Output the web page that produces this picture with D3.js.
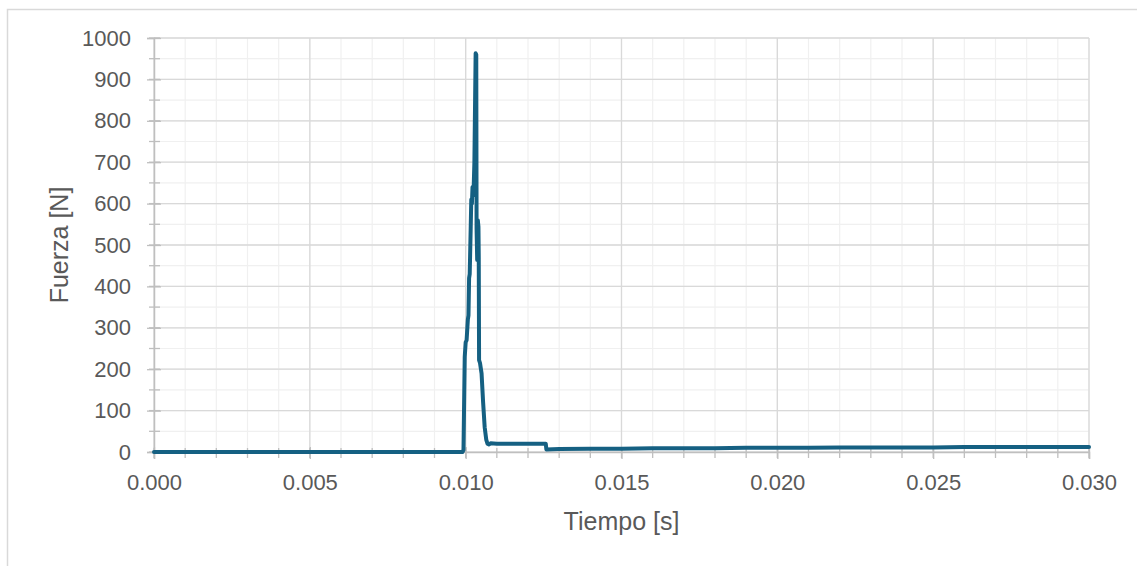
<!DOCTYPE html>
<html>
<head>
<meta charset="utf-8">
<script src="https://cdn.jsdelivr.net/npm/d3@7"></script>
<style>
  html, body { margin: 0; padding: 0; background: #fff; }
  svg { display: block; font-family: "Liberation Sans", Arial, sans-serif; }
</style>
</head>
<body>
<div id="chart"></div>
<script>
// Tiempo [s] / Fuerza [N] series
const tiempo = [
  0.0000, 0.0050, 0.0099, 0.00993, 0.00997, 0.01000, 0.01003, 0.01007, 0.01009,
  0.01011, 0.01013, 0.01016, 0.01018, 0.01020, 0.01022, 0.01025, 0.01028,
  0.01032, 0.01034, 0.01035, 0.01037, 0.01039, 0.01041, 0.01042, 0.01043,
  0.01046, 0.01051, 0.01056, 0.01061, 0.01066, 0.01070, 0.01075, 0.01080,
  0.01100, 0.01150, 0.01200, 0.01257, 0.01259, 0.01300, 0.01400, 0.01500,
  0.01600, 0.01700, 0.01800, 0.01900, 0.02000, 0.02100, 0.02200, 0.02300,
  0.02400, 0.02500, 0.02600, 0.02700, 0.02800, 0.02900, 0.03000
];
const fuerza = [
  0, 0, 0, 5, 230, 265, 270, 320, 330,
  420, 430, 536, 610, 600, 640, 620, 700,
  963, 960, 540, 464, 560, 544, 470, 222,
  215, 190, 120, 60, 30, 20, 18, 21,
  20, 20, 20, 20, 6, 7, 8, 8,
  9, 9, 9, 10, 10, 10, 11, 11,
  11, 11, 12, 12, 12, 12, 12
];
const xTickValues = [0, 0.005, 0.010, 0.015, 0.020, 0.025, 0.030];
const yTickValues = [0, 100, 200, 300, 400, 500, 600, 700, 800, 900, 1000];

const W = 1137, H = 566;
const margin = { left: 154, right: 48, top: 38, bottom: 114 };
const innerW = W - margin.left - margin.right;
const innerH = H - margin.top - margin.bottom;
const lineColor = '#156082';
const textColor = '#595959';

const svg = d3.select('#chart').append('svg')
  .attr('width', W)
  .attr('height', H);

// chart area frame (runs off the right and bottom edges)
svg.append('rect')
  .attr('x', 7.5).attr('y', 9.5)
  .attr('width', W + 20).attr('height', H + 20)
  .attr('fill', '#fff')
  .attr('stroke', '#d9d9d9')
  .attr('stroke-width', 1.5);

const g = svg.append('g')
  .attr('transform', `translate(${margin.left},${margin.top})`);

const x = d3.scaleLinear().domain([0, 0.030]).range([0, innerW]);
const y = d3.scaleLinear().domain([0, 1000]).range([innerH, 0]);

const xMinor = d3.range(0, 31).map(d => d / 1000);
const yMinor = d3.range(0, 21).map(d => d * 50);

// minor gridlines
g.append('g').selectAll('line').data(xMinor).join('line')
  .attr('x1', d => x(d)).attr('x2', d => x(d))
  .attr('y1', 0).attr('y2', innerH)
  .attr('stroke', '#f0f0f0').attr('stroke-width', 1.2);
g.append('g').selectAll('line').data(yMinor).join('line')
  .attr('x1', 0).attr('x2', innerW)
  .attr('y1', d => y(d)).attr('y2', d => y(d))
  .attr('stroke', '#f0f0f0').attr('stroke-width', 1.2);

// major gridlines
g.append('g').selectAll('line').data(xTickValues).join('line')
  .attr('x1', d => x(d)).attr('x2', d => x(d))
  .attr('y1', 0).attr('y2', innerH)
  .attr('stroke', '#d9d9d9').attr('stroke-width', 1.3);
g.append('g').selectAll('line').data(yTickValues).join('line')
  .attr('x1', 0).attr('x2', innerW)
  .attr('y1', d => y(d)).attr('y2', d => y(d))
  .attr('stroke', '#d9d9d9').attr('stroke-width', 1.3);

// minor tick marks (cross the axis)
g.append('g').selectAll('line').data(yMinor).join('line')
  .attr('x1', -5).attr('x2', 6)
  .attr('y1', d => y(d)).attr('y2', d => y(d))
  .attr('stroke', '#bfbfbf').attr('stroke-width', 1.3);
g.append('g').selectAll('line').data(xMinor).join('line')
  .attr('x1', d => x(d)).attr('x2', d => x(d))
  .attr('y1', innerH - 4).attr('y2', innerH + 6)
  .attr('stroke', '#bfbfbf').attr('stroke-width', 1.3);

// axes
const yAxis = g.append('g')
  .call(d3.axisLeft(y).tickValues(yTickValues).tickSize(7).tickPadding(16).tickFormat(d3.format('d')));
const xAxis = g.append('g')
  .attr('transform', `translate(0,${innerH})`)
  .call(d3.axisBottom(x).tickValues(xTickValues).tickSize(7).tickPadding(15).tickFormat(d3.format('.3f')));

[xAxis, yAxis].forEach(ax => {
  ax.select('.domain').attr('stroke', '#bfbfbf').attr('stroke-width', 1.5);
  ax.selectAll('.tick line').attr('stroke', '#bfbfbf').attr('stroke-width', 1.3);
  ax.selectAll('.tick text')
    .attr('fill', textColor)
    .attr('font-size', '22px')
    .attr('font-family', '"Liberation Sans", Arial, sans-serif');
});
yAxis.selectAll('.tick line').attr('x2', -7).attr('x1', 7);
xAxis.selectAll('.tick line').attr('y1', -5).attr('y2', 7);

// data line
const pts = tiempo.map((t, i) => [t, fuerza[i]]);
g.append('path')
  .datum(pts)
  .attr('fill', 'none')
  .attr('stroke', lineColor)
  .attr('stroke-width', 4)
  .attr('stroke-linejoin', 'round')
  .attr('stroke-linecap', 'round')
  .attr('d', d3.line().x(d => x(d[0])).y(d => y(d[1])));

// axis titles
svg.append('text')
  .attr('x', margin.left + innerW / 2)
  .attr('y', 530)
  .attr('text-anchor', 'middle')
  .attr('fill', textColor)
  .attr('font-size', '25px')
  .text('Tiempo [s]');

svg.append('text')
  .attr('transform', `translate(68,${margin.top + innerH / 2}) rotate(-90)`)
  .attr('text-anchor', 'middle')
  .attr('fill', textColor)
  .attr('font-size', '25px')
  .text('Fuerza [N]');
</script>
</body>
</html>
